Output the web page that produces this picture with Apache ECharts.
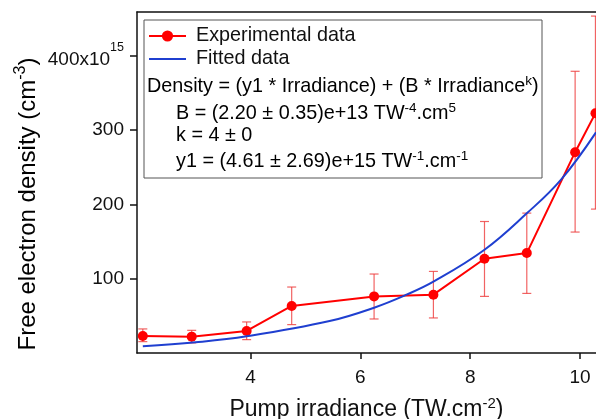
<!DOCTYPE html>
<html><head><meta charset="utf-8">
<script src="https://cdn.jsdelivr.net/npm/echarts@6/dist/echarts.min.js"></script>
<style>html,body{margin:0;padding:0;background:#fff}#c{width:596px;height:419px}</style>
</head><body><div id="c"></div>
<script>
const irradiance = [2.04, 2.93, 3.93, 4.75, 6.25, 7.33, 8.26, 9.03, 9.91, 10.28];
const density    = [23, 22, 29.7, 63.3, 76.2, 78.5, 126.9, 134.5, 270.3, 322.7];
const errLow     = [15.3, 13.6, 18, 38.2, 45.8, 47.2, 76.2, 80.2, 162.8, 193.7];
const errHigh    = [32.4, 30.5, 41.8, 88.8, 106.3, 109.8, 177, 188.3, 379.2, 453.5];
const fitIrradiance = [2.04, 3.0, 3.93, 5.44, 6.25, 6.84, 7.33, 8.26, 9.03, 9.65, 10.29];
const fitDensity    = [9, 14.4, 22.5, 43, 61, 78.5, 96, 139, 188, 233, 297];
const xTicks = [4, 6, 8, 10];
const yTicks = [100, 200, 300, 400];

const F = '"Liberation Sans", Arial, sans-serif';
const TXT = '#111';
const tickRich = {
  n: {fontSize: 19, fontFamily: F, lineHeight: 24, color: TXT},
  m: {fontSize: 19, fontFamily: F, lineHeight: 24, color: TXT, padding: [8, 0, 0, 0]},
  s: {fontSize: 12.5, fontFamily: F, lineHeight: 16, height: 8, verticalAlign: 'top', color: TXT}
};
const boxRich = {
  n: {fontSize: 19.8, fontFamily: F, lineHeight: 26, color: TXT},
  s: {fontSize: 13.5, fontFamily: F, lineHeight: 17, verticalAlign: 'top', color: TXT}
};
const nameXRich = {
  n: {fontSize: 23, fontFamily: F, lineHeight: 28, color: TXT},
  s: {fontSize: 15, fontFamily: F, lineHeight: 18, verticalAlign: 'top', color: TXT}
};
const nameYRich = {
  n: {fontSize: 24, fontFamily: F, lineHeight: 30, color: TXT},
  s: {fontSize: 16, fontFamily: F, lineHeight: 19, verticalAlign: 'top', color: TXT}
};
const RED = '#ff0000', BLUE = '#1f3fd0';

const chart = echarts.init(document.getElementById('c'), null, {renderer: 'canvas'});
const xCommon = {type: 'value', min: 1.934, max: 10.29};
chart.setOption({
  animation: false,
  backgroundColor: '#fff',
  grid: {left: 137, right: 0, top: 12, bottom: 66, containLabel: false, outerBoundsMode: 'none'},
  xAxis: [
    Object.assign({}, xCommon, {
      position: 'bottom',
      axisLine: {show: true, lineStyle: {color: '#111', width: 1.5}},
      axisTick: {show: true, customValues: xTicks, length: 6, lineStyle: {color: '#111', width: 1.5}},
      axisLabel: {customValues: xTicks, margin: 15, fontSize: 19, fontFamily: F, color: TXT},
      splitLine: {show: false},
      name: '{n|Pump irradiance (TW.cm}{s|-2}{n|)}',
      nameLocation: 'middle', nameGap: 43,
      nameTextStyle: {rich: nameXRich}
    }),
    Object.assign({}, xCommon, {
      position: 'top',
      axisLine: {show: true, onZero: false, lineStyle: {color: '#111', width: 1.5}},
      axisTick: {show: false}, axisLabel: {show: false}, splitLine: {show: false}
    })
  ],
  yAxis: {
    type: 'value', min: 0, max: 459,
    axisLine: {show: true, onZero: false, lineStyle: {color: '#111', width: 1.5}},
    axisTick: {show: true, customValues: yTicks, length: 7, lineStyle: {color: '#111', width: 1.5}},
    axisLabel: {
      customValues: yTicks, margin: 13,
      formatter: v => v === 400 ? '{m|400x10}{s|15}' : '{n|' + v + '}',
      rich: tickRich
    },
    splitLine: {show: false}
  },
  legend: {
    left: 148, top: 26, orient: 'vertical', padding: 0,
    itemWidth: 37, itemHeight: 14, itemGap: 3,
    data: [{name: 'Experimental data'}, {name: 'Fitted data', itemStyle: {color: 'rgba(0,0,0,0)', borderWidth: 0}}],
    textStyle: {fontSize: 19.8, fontFamily: F, color: TXT, padding: [0, 0, 0, 5]}
  },
  graphic: [
    {type: 'rect', shape: {x: 144, y: 20, width: 398, height: 158}, style: {fill: 'none', stroke: '#555', lineWidth: 1}, z: 50},
    {type: 'text', x: 147, y: 87, z: 50, style: {text: '{n|Density = (y1 * Irradiance) + (B * Irradiance}{s|k}{n|)}', rich: boxRich, verticalAlign: 'middle'}},
    {type: 'text', x: 176, y: 114, z: 50, style: {text: '{n|B = (2.20 ± 0.35)e+13 TW}{s|-4}{n|.cm}{s|5}', rich: boxRich, verticalAlign: 'middle'}},
    {type: 'text', x: 176, y: 136, z: 50, style: {text: '{n|k = 4 ± 0}', rich: boxRich, verticalAlign: 'middle'}},
    {type: 'text', x: 176, y: 162, z: 50, style: {text: '{n|y1 = (4.61 ± 2.69)e+15 TW}{s|-1}{n|.cm}{s|-1}', rich: boxRich, verticalAlign: 'middle'}},
    {type: 'text', x: 28, y: 204, rotation: Math.PI / 2, z: 50, style: {text: '{n|Free electron density (cm}{s|-3}{n|)}', rich: nameYRich, align: 'center', verticalAlign: 'middle'}}
  ],
  series: [
    {
      name: 'errors', type: 'custom', z: 1,
      data: irradiance.map((x, i) => [x, errLow[i], errHigh[i]]),
      encode: {x: 0, y: [1, 2]},
      renderItem: function (params, api) {
        const lo = api.coord([api.value(0), api.value(1)]);
        const hi = api.coord([api.value(0), api.value(2)]);
        const w = 4.5;
        const st = {stroke: 'rgba(238,60,60,0.8)', lineWidth: 1.2};
        return {type: 'group', children: [
          {type: 'line', shape: {x1: lo[0], y1: lo[1], x2: hi[0], y2: hi[1]}, style: st},
          {type: 'line', shape: {x1: lo[0] - w, y1: lo[1], x2: lo[0] + w, y2: lo[1]}, style: st},
          {type: 'line', shape: {x1: hi[0] - w, y1: hi[1], x2: hi[0] + w, y2: hi[1]}, style: st}
        ]};
      }
    },
    {
      name: 'Experimental data', type: 'line', z: 3,
      data: irradiance.map((x, i) => [x, density[i]]),
      symbol: 'circle', symbolSize: 10,
      lineStyle: {color: RED, width: 2}, itemStyle: {color: RED}
    },
    {
      name: 'Fitted data', type: 'line', z: 4, smooth: 0.4,
      data: fitIrradiance.map((x, i) => [x, fitDensity[i]]),
      symbol: 'none',
      lineStyle: {color: BLUE, width: 2}, itemStyle: {color: BLUE}
    }
  ]
});
</script></body></html>
